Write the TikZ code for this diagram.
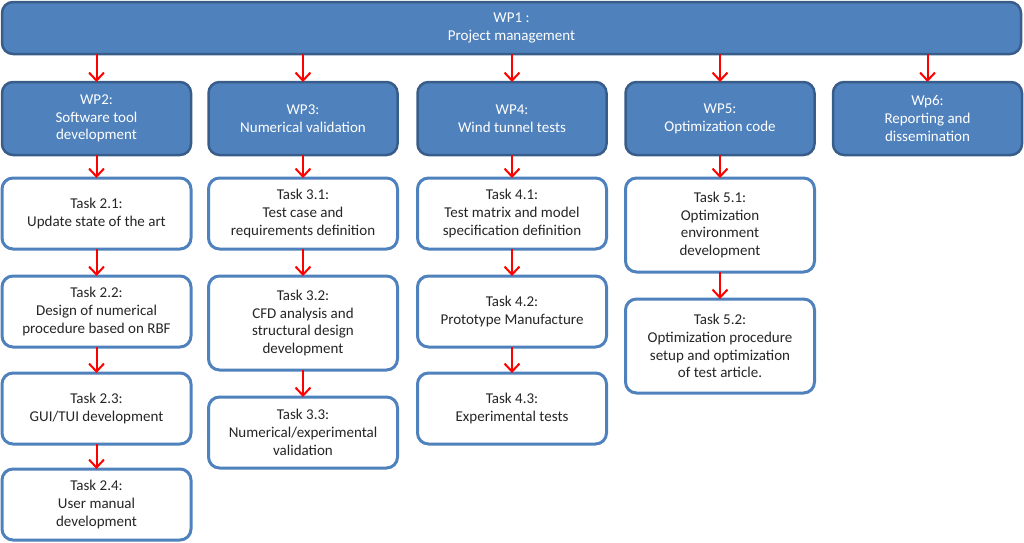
\documentclass[tikz,border=0pt]{standalone}
\usepackage{fontspec}
\setmainfont{Carlito}
\usetikzlibrary{arrows.meta}
\definecolor{wpfill}{HTML}{4F81BD}
\definecolor{wpborder}{HTML}{385D8A}
\definecolor{tasktext}{HTML}{262626}
\begin{document}
\begin{tikzpicture}[x=1pt,y=-1pt,
  base/.style={align=center, inner sep=0pt, outer sep=0pt, anchor=north, rounded corners=11pt,
    minimum width=189pt, font=\fontsize{15}{17.8}\selectfont},
  wp/.style={base, draw=wpborder, fill=wpfill, line width=2.5pt, text=white, minimum height=73pt},
  task/.style={base, draw=wpfill, fill=white, line width=3pt, text=tasktext, minimum height=71pt},
  tall/.style={minimum height=94pt},
  arr/.style={draw=red, line width=2pt, -{Straight Barb[length=8pt,width=15pt,line width=2pt]}}
]
\useasboundingbox (0,0) rectangle (1024,542);

\node[wp, minimum width=1019pt, minimum height=52pt] (wp1) at (511.5,2) {WP1 :\\Project management};

\node[wp] (wp2) at (96.5,82) {WP2:\\Software tool\\development};
\node[wp] (wp3) at (303,82) {WP3:\\Numerical validation};
\node[wp] (wp4) at (512,82) {WP4:\\Wind tunnel tests};
\node[wp] (wp5) at (720,82) {WP5:\\Optimization code};
\node[wp] (wp6) at (927.5,82) {Wp6:\\Reporting and\\dissemination};

\node[task] (t21) at (96.5,178) {Task 2.1:\\Update state of the art};
\node[task] (t22) at (96.5,276) {Task 2.2:\\Design of numerical\\procedure based on RBF};
\node[task] (t23) at (96.5,373) {Task 2.3:\\GUI/TUI development};
\node[task] (t24) at (96.5,469) {Task 2.4:\\User manual\\development};

\node[task] (t31) at (303,178) {Task 3.1:\\Test case and\\requirements definition};
\node[task, tall] (t32) at (303,276) {Task 3.2:\\CFD analysis and\\structural design\\development};
\node[task] (t33) at (303,397) {Task 3.3:\\Numerical/experimental\\validation};

\node[task] (t41) at (512,178) {Task 4.1:\\Test matrix and model\\specification definition};
\node[task] (t42) at (512,276) {Task 4.2:\\Prototype Manufacture};
\node[task] (t43) at (512,373) {Task 4.3:\\Experimental tests};

\node[task, tall] (t51) at (720,178) {Task 5.1:\\Optimization\\environment\\development};
\node[task, tall] (t52) at (720,299) {Task 5.2:\\Optimization procedure\\setup and optimization\\of test article.};

\foreach \w in {wp2,wp3,wp4,wp5,wp6}
  \draw[arr] (wp1.south -| \w.north) -- (\w.north);

\foreach \a/\b in {wp2/t21,t21/t22,t22/t23,t23/t24,wp3/t31,t31/t32,t32/t33,wp4/t41,t41/t42,t42/t43,wp5/t51,t51/t52}
  \draw[arr] (\a.south) -- (\b.north);
\end{tikzpicture}
\end{document}
